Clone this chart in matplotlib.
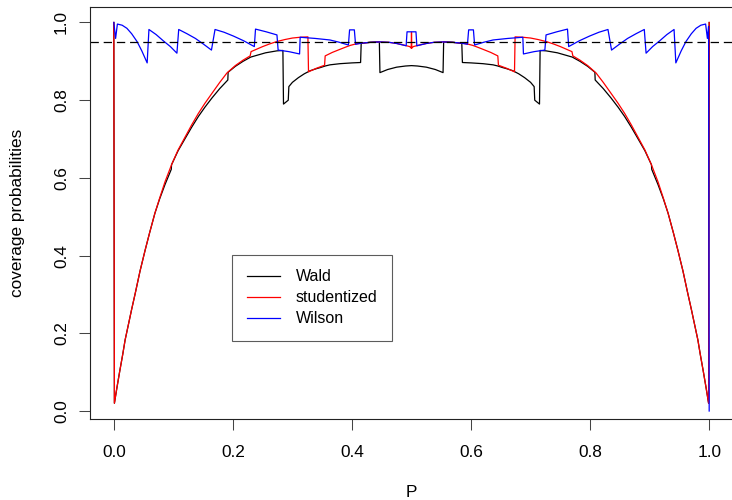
import matplotlib
matplotlib.use("Agg")
import matplotlib.pyplot as plt

plt.rcParams['font.family'] = ['Liberation Sans', 'DejaVu Sans']
plt.rcParams['lines.scale_dashes'] = False

# ---- data (left half p<=0.5, right half p>0.5) ----
p_wald_left = [0.0, 0.001, 0.005, 0.010, 0.015, 0.019, 0.025, 0.030, 0.036, 0.044, 0.0526,
               0.060, 0.069, 0.077, 0.086, 0.0965, 0.097, 0.108, 0.12, 0.131, 0.142, 0.153,
               0.165, 0.178, 0.1915, 0.192, 0.204, 0.217, 0.23, 0.255, 0.274, 0.284, 0.285,
               0.293, 0.294, 0.30, 0.31, 0.32, 0.33, 0.34, 0.347, 0.355, 0.363, 0.38, 0.40,
               0.4145, 0.4155, 0.43, 0.446, 0.447, 0.46, 0.475, 0.49, 0.5]
cov_wald_left = [1.0, 0.02, 0.058, 0.103, 0.146, 0.183, 0.226, 0.262, 0.303, 0.360, 0.414,
                 0.458, 0.509, 0.546, 0.583, 0.622, 0.634, 0.670, 0.702, 0.731, 0.758, 0.782,
                 0.806, 0.830, 0.852, 0.872, 0.887, 0.900, 0.911, 0.922, 0.927, 0.928, 0.790,
                 0.800, 0.835, 0.846, 0.858, 0.868, 0.876, 0.881, 0.884, 0.888, 0.891, 0.894,
                 0.896, 0.897, 0.946, 0.949, 0.950, 0.871, 0.879, 0.885, 0.888, 0.889]
p_wald_right = [0.51, 0.525, 0.54, 0.553, 0.554, 0.57, 0.5845, 0.5855, 0.60, 0.62, 0.637,
                0.645, 0.653, 0.66, 0.67, 0.68, 0.69, 0.70, 0.706, 0.707, 0.715, 0.716,
                0.726, 0.745, 0.77, 0.783, 0.796, 0.808, 0.8085, 0.822, 0.835, 0.847, 0.858,
                0.869, 0.88, 0.892, 0.903, 0.9035, 0.914, 0.923, 0.931, 0.940, 0.9474, 0.956,
                0.964, 0.970, 0.975, 0.981, 0.985, 0.990, 0.995, 0.999, 1.0]
cov_wald_right = [0.888, 0.885, 0.879, 0.871, 0.950, 0.949, 0.946, 0.897, 0.896, 0.894, 0.891,
                  0.888, 0.884, 0.881, 0.876, 0.868, 0.858, 0.846, 0.835, 0.800, 0.790, 0.928,
                  0.927, 0.922, 0.911, 0.900, 0.887, 0.872, 0.852, 0.830, 0.806, 0.782, 0.758,
                  0.731, 0.702, 0.670, 0.634, 0.622, 0.583, 0.546, 0.509, 0.458, 0.414, 0.360,
                  0.303, 0.262, 0.226, 0.183, 0.146, 0.103, 0.058, 0.02, 1.0]

p_stud_left = [0.0, 0.001, 0.005, 0.010, 0.015, 0.019, 0.025, 0.030, 0.036, 0.044, 0.0526,
               0.060, 0.069, 0.077, 0.086, 0.097, 0.108, 0.12, 0.131, 0.142, 0.153, 0.165,
               0.178, 0.19, 0.204, 0.217, 0.229, 0.2305, 0.25, 0.262, 0.274, 0.287, 0.30,
               0.313, 0.326, 0.327, 0.34, 0.354, 0.355, 0.367, 0.38, 0.39, 0.397, 0.407,
               0.417, 0.432, 0.447, 0.462, 0.475, 0.487, 0.497, 0.4995, 0.5]
cov_stud_left = [1.0, 0.02, 0.058, 0.103, 0.146, 0.183, 0.226, 0.262, 0.303, 0.360, 0.414,
                 0.458, 0.509, 0.548, 0.590, 0.634, 0.672, 0.706, 0.737, 0.766, 0.792, 0.818,
                 0.846, 0.870, 0.889, 0.903, 0.914, 0.925, 0.938, 0.945, 0.951, 0.956, 0.960,
                 0.962, 0.963, 0.873, 0.882, 0.890, 0.914, 0.923, 0.931, 0.937, 0.941, 0.945,
                 0.947, 0.949, 0.950, 0.949, 0.946, 0.942, 0.938, 0.934, 0.975]
p_stud_right = [0.5005, 0.503, 0.513, 0.525, 0.538, 0.553, 0.568, 0.583, 0.593, 0.603, 0.61,
                0.62, 0.633, 0.645, 0.646, 0.66, 0.673, 0.674, 0.687, 0.70, 0.713, 0.726,
                0.738, 0.75, 0.7695, 0.771, 0.783, 0.796, 0.81, 0.822, 0.835, 0.847, 0.858,
                0.869, 0.88, 0.892, 0.903, 0.914, 0.923, 0.931, 0.940, 0.9474, 0.956, 0.964,
                0.970, 0.975, 0.981, 0.985, 0.990, 0.995, 0.999, 1.0]
cov_stud_right = [0.934, 0.938, 0.942, 0.946, 0.949, 0.950, 0.949, 0.947, 0.945, 0.941, 0.937,
                  0.931, 0.923, 0.914, 0.890, 0.882, 0.873, 0.963, 0.962, 0.960, 0.956, 0.951,
                  0.945, 0.938, 0.925, 0.914, 0.903, 0.889, 0.870, 0.846, 0.818, 0.792, 0.766,
                  0.737, 0.706, 0.672, 0.634, 0.590, 0.548, 0.509, 0.458, 0.414, 0.360, 0.303,
                  0.262, 0.226, 0.183, 0.146, 0.103, 0.058, 0.02, 1.0]

p_wils_left = [0.0, 0.003, 0.006, 0.014, 0.022, 0.030, 0.039, 0.047, 0.056, 0.059, 0.071,
               0.083, 0.095, 0.106, 0.109, 0.123, 0.137, 0.150, 0.164, 0.170, 0.185, 0.201,
               0.218, 0.236, 0.238, 0.256, 0.274, 0.276, 0.294, 0.312, 0.313, 0.338, 0.363,
               0.379, 0.394, 0.396, 0.404, 0.406, 0.417, 0.432, 0.447, 0.462, 0.475, 0.491,
               0.4925, 0.5]
cov_wils_left = [1.0, 0.959, 0.996, 0.993, 0.985, 0.971, 0.951, 0.927, 0.896, 0.982, 0.969,
                 0.953, 0.938, 0.921, 0.982, 0.971, 0.959, 0.945, 0.929, 0.982, 0.975, 0.965,
                 0.953, 0.938, 0.983, 0.976, 0.968, 0.929, 0.925, 0.919, 0.962, 0.959, 0.955,
                 0.949, 0.942, 0.981, 0.981, 0.944, 0.947, 0.949, 0.950, 0.949, 0.946, 0.940,
                 0.976, 0.976]
p_wils_right = [0.5075, 0.509, 0.525, 0.538, 0.553, 0.568, 0.583, 0.594, 0.596, 0.604, 0.606,
                0.621, 0.637, 0.662, 0.687, 0.688, 0.706, 0.724, 0.726, 0.744, 0.762, 0.764,
                0.782, 0.799, 0.815, 0.830, 0.836, 0.850, 0.863, 0.877, 0.891, 0.894, 0.905,
                0.917, 0.929, 0.941, 0.944, 0.953, 0.961, 0.970, 0.978, 0.986, 0.994, 0.997,
                0.999, 1.0]
cov_wils_right = [0.976, 0.940, 0.946, 0.949, 0.950, 0.949, 0.947, 0.944, 0.981, 0.981, 0.942,
                  0.949, 0.955, 0.959, 0.962, 0.919, 0.925, 0.929, 0.968, 0.976, 0.983, 0.938,
                  0.953, 0.965, 0.975, 0.982, 0.929, 0.945, 0.959, 0.971, 0.982, 0.921, 0.938,
                  0.953, 0.969, 0.982, 0.896, 0.927, 0.951, 0.971, 0.985, 0.993, 0.996, 0.959,
                  0.99, 0.0]

nominal = 0.95
x_ticks = [0.0, 0.2, 0.4, 0.6, 0.8, 1.0]
y_ticks = [0.0, 0.2, 0.4, 0.6, 0.8, 1.0]
series_labels = ["Wald", "studentized", "Wilson"]

p_wald = p_wald_left + p_wald_right
cov_wald = cov_wald_left + cov_wald_right
p_stud = p_stud_left + p_stud_right
cov_stud = cov_stud_left + cov_stud_right
p_wils = p_wils_left + p_wils_right
cov_wils = cov_wils_left + cov_wils_right

# ---- figure ----
fig = plt.figure(figsize=(7.32, 5.0), dpi=100)
ax = fig.add_axes([90 / 732, 81.3 / 500, 643 / 732, 411.4 / 500])

lw = 0.9
ax.plot(p_wald, cov_wald, color='black', lw=lw, label=series_labels[0])
ax.plot(p_stud, cov_stud, color='red', lw=lw, label=series_labels[1])
ax.plot(p_wils, cov_wils, color='blue', lw=lw, label=series_labels[2])
ax.axhline(nominal, color='black', lw=0.9, linestyle=(0, (6, 3.5)))

ax.set_xlim(-0.04, 1.04)
ax.set_ylim(-0.0198, 1.0391)
ax.set_xticks(x_ticks)
ax.set_xticklabels([f"{v:.1f}" for v in x_ticks])
ax.set_yticks(y_ticks)
ax.set_yticklabels([f"{v:.1f}" for v in y_ticks], rotation=90, va='center')

for s in ax.spines.values():
    s.set_color('#222222')
    s.set_linewidth(0.8)
ax.tick_params(axis='both', length=7.7, width=0.75, color='#444444',
               labelsize=12.4, labelcolor='black')
ax.tick_params(axis='x', pad=11)
ax.tick_params(axis='y', pad=7.5)

ax.set_xlabel("P", fontsize=12.4, va='center')
ax.xaxis.set_label_coords(0.5, -0.1806)
ax.set_ylabel("coverage probabilities", fontsize=12.4, va='center')
ax.yaxis.set_label_coords(-0.112, 0.5)

leg = ax.legend(loc='lower left', bbox_to_anchor=(0.2213, 0.1896),
                fontsize=11.5, frameon=True, fancybox=False, borderpad=0.9,
                handlelength=2.08, handletextpad=0.98, labelspacing=0.38,
                borderaxespad=0.0)
leg.get_frame().set_edgecolor('#333333')
leg.get_frame().set_linewidth(0.8)
for line in leg.get_lines():
    line.set_linewidth(0.9)

fig.savefig("out.png", dpi=100)
